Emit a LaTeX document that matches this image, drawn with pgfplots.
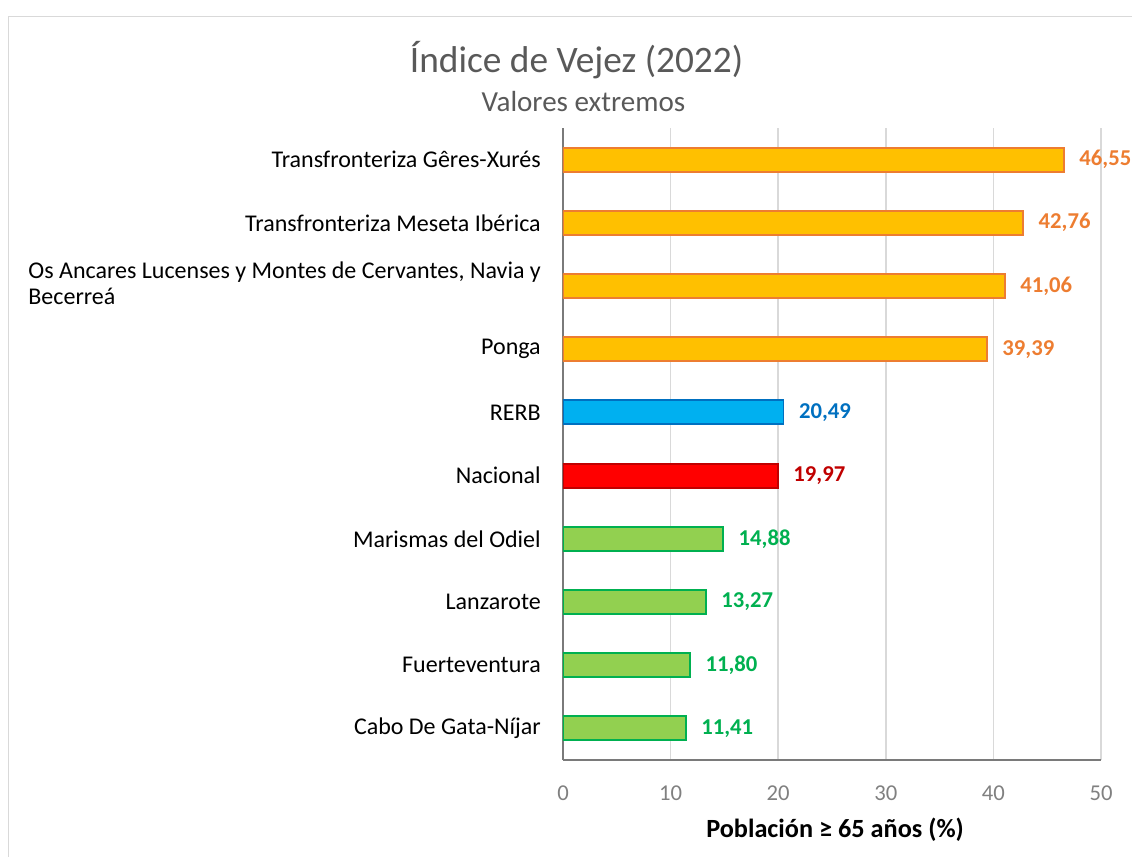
\documentclass[border=0pt]{standalone}
\usepackage{fontspec}
\setmainfont{Carlito}
\usepackage{pgfplots}
\pgfplotsset{compat=1.18}
\definecolor{orfill}{HTML}{FFC000}
\definecolor{oredge}{HTML}{ED7D31}
\definecolor{blfill}{HTML}{00B0F0}
\definecolor{bledge}{HTML}{0070C0}
\definecolor{rdfill}{HTML}{FF0000}
\definecolor{rdedge}{HTML}{C00000}
\definecolor{grfill}{HTML}{92D050}
\definecolor{gredge}{HTML}{00B050}
\definecolor{gridc}{HTML}{D9D9D9}
\definecolor{axc}{HTML}{7A7A7A}
\definecolor{titc}{HTML}{595959}
\definecolor{tickc}{HTML}{808080}
\begin{document}
\begin{tikzpicture}
\useasboundingbox (0,0) rectangle (849pt,642.75pt);
\draw[gridc, line width=1.2pt] (6.4pt,0) -- (6.4pt,630.4pt) -- (849pt,630.4pt);
\begin{axis}[
  at={(422.25pt,72.75pt)}, anchor=south west,
  scale only axis, width=403.5pt, height=474pt,
  xbar, bar width=18pt, bar shift=0pt,
  xmin=0, xmax=50, ymin=-0.5, ymax=9.5,
  xtick={0,10,...,50}, ytick={0,...,9},
  yticklabels={Cabo De Gata-Níjar, Fuerteventura, Lanzarote, Marismas del Odiel, Nacional, RERB, Ponga,
    {\begin{tabular}{@{}l@{}}Os Ancares Lucenses y Montes de Cervantes, Navia y\\Becerreá\end{tabular}},
    Transfronteriza Meseta Ibérica, Transfronteriza Gêres-Xurés},
  xmajorgrids, major grid style={gridc, line width=1.2pt},
  axis x line*=bottom, axis y line*=left,
  axis line style={axc, line width=1.2pt},
  major tick length=0pt,
  /pgf/number format/assume math mode=true,
  xticklabel style={font=\fontsize{17}{17}\selectfont, text=tickc, anchor=north, inner sep=0pt, yshift=-19pt},
  yticklabel style={font=\fontsize{18}{19.5}\selectfont, anchor=east, inner sep=0pt, xshift=-16.5pt},
  nodes near coords, point meta=explicit symbolic,
  nodes near coords style={anchor=west, inner sep=0pt, xshift=11pt, font=\bfseries\fontsize{17}{17}\selectfont},
]
\addplot[fill=grfill, draw=gredge, line width=1.4pt, every node near coord/.append style={text=gredge}]
  table[x=x, y=y, meta=lbl] {
x y lbl
11.41 0 11,41
11.80 1 11,80
13.27 2 13,27
14.88 3 14,88
};
\addplot[fill=rdfill, draw=rdedge, line width=1.4pt, every node near coord/.append style={text=rdedge}]
  table[x=x, y=y, meta=lbl] {
x y lbl
19.97 4 19,97
};
\addplot[fill=blfill, draw=bledge, line width=1.4pt, every node near coord/.append style={text=bledge}]
  table[x=x, y=y, meta=lbl] {
x y lbl
20.49 5 20,49
};
\addplot[fill=orfill, draw=oredge, line width=1.4pt, every node near coord/.append style={text=oredge}]
  table[x=x, y=y, meta=lbl] {
x y lbl
39.39 6 39,39
41.06 7 41,06
42.76 8 42,76
46.55 9 46,55
};
\end{axis}
\node[anchor=base, text=titc, font=\fontsize{28}{28}\selectfont] at (432.4pt,588.4pt) {Índice de Vejez (2022)};
\node[anchor=base, text=titc, font=\fontsize{21.8}{22}\selectfont] at (437.6pt,559pt) {Valores extremos};
\node[anchor=base, font=\bfseries\fontsize{19.7}{20}\selectfont] at (626.25pt,14.25pt) {Población ≥ 65 años (\%)};
\end{tikzpicture}
\end{document}
